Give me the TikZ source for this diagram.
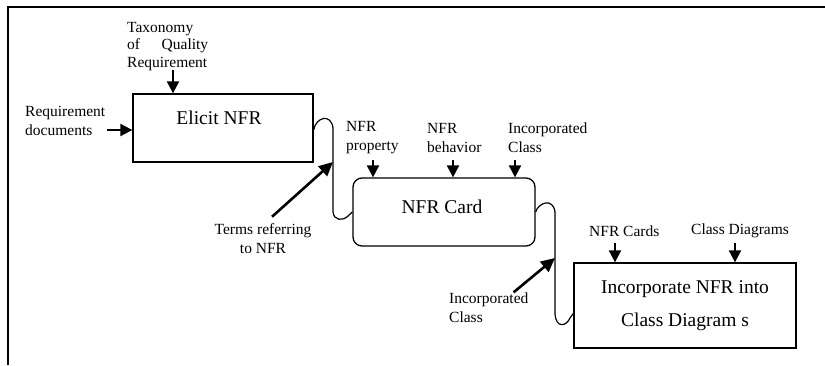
\documentclass[tikz,border=0pt]{standalone}
\usepackage{fontspec}
\setmainfont{Liberation Serif}
\usetikzlibrary{arrows.meta}
\newcommand\labfont{\fontsize{15.5}{19}\selectfont}
\newcommand\taxfont{\fontsize{15.5}{17.5}\selectfont}
\newcommand\boxfont{\fontsize{19.5}{33}\selectfont}
\tikzset{
  x=1pt, y=-1pt,
  procbox/.style={draw, line width=1.3pt, inner sep=0pt},
  lab/.style={font=\labfont, inner sep=0pt},
  boxtext/.style={font=\boxfont, inner sep=0pt},
  inarrow/.style={line width=2pt, -{Triangle[width=12pt,length=12pt]}},
  diagarrow/.style={line width=2.6pt, -{Triangle[width=13pt,length=14pt]}},
  flow/.style={line width=1.2pt}
}
\begin{document}
\begin{tikzpicture}
\useasboundingbox (0,0) rectangle (825,365);
% frame
\draw[line width=1.3pt] (8,365) -- (8,7) -- (825,7);
% boxes
\node[procbox, minimum width=180pt, minimum height=68pt] (elicit) at (223,128) {};
\node[boxtext] (elicitT) at (219,118) {Elicit NFR};
\node[procbox, rounded corners=9pt, minimum width=182pt, minimum height=68pt] (card) at (444,212) {};
\node[boxtext] (cardT) at (442,207) {NFR Card};
\node[procbox, minimum width=222pt, minimum height=85pt, align=center, font=\boxfont] (incorp) at (685,305.5) {Incorporate NFR into\\Class Diagram s};
% labels
\node[lab, font=\taxfont, align=left, anchor=north west] (tax) at (127,22) {Taxonomy\\\makebox[81pt]{of\hfill Quality}\\Requirement};
\node[lab, align=left, anchor=west] (reqdoc) at (25,121) {Requirement\\documents};
\node[lab, align=left, anchor=west] (prop) at (346,138) {NFR\\property};
\node[lab, align=left, anchor=west] (behav) at (427,138) {NFR\\behavior};
\node[lab, align=left, anchor=west] (inccls) at (508,138) {Incorporated\\Class};
\node[lab, anchor=west] (cards) at (589,231) {NFR Cards};
\node[lab, anchor=west] (cdiag) at (691,231) {Class Diagrams};
\node[lab, align=center] (terms) at (263,239) {Terms referring\\to NFR};
\node[lab, align=left, anchor=west] (inc2) at (449,307.5) {Incorporated\\Class};
% input arrows
\draw[inarrow] ([xshift=-50pt]elicit.north) ++(0,-23) -- ([xshift=-50pt]elicit.north);
\draw[inarrow] ([yshift=-2pt]elicit.west) ++(-25,0) -- ([yshift=-2pt]elicit.west);
\draw[inarrow] ([xshift=-71pt]card.north) ++(0,-17) -- ([xshift=-71pt]card.north);
\draw[inarrow] ([xshift=9pt]card.north) ++(0,-17) -- ([xshift=9pt]card.north);
\draw[inarrow] ([xshift=71pt]card.north) ++(0,-17) -- ([xshift=71pt]card.north);
\draw[inarrow] ([xshift=-70pt]incorp.north) ++(0,-19) -- ([xshift=-70pt]incorp.north);
\draw[inarrow] ([xshift=50pt]incorp.north) ++(0,-19) -- ([xshift=50pt]incorp.north);
% flow connectors
\coordinate (j1) at (333,162);
\coordinate (j2) at (555,258);
\draw[flow] ([yshift=-2pt]elicit.east) .. controls (316,117) and (331,113) .. (333,128)
  -- (333,212) .. controls (334,221) and (343,221) .. (348,216)
  .. controls (350,214) .. (card.west);
\draw[flow] (card.east) .. controls (538,203) and (553,197) .. (555,212)
  -- (555,314) .. controls (556,328) and (566,327) .. (570,318)
  .. controls (571,316) .. ([yshift=-8pt]incorp.west);
% control arrows
\draw[diagarrow] (terms.north) ++(9,-7) -- (j1);
\draw[diagarrow] ([xshift=-15pt]inc2.north east) -- (j2);
\end{tikzpicture}
\end{document}
